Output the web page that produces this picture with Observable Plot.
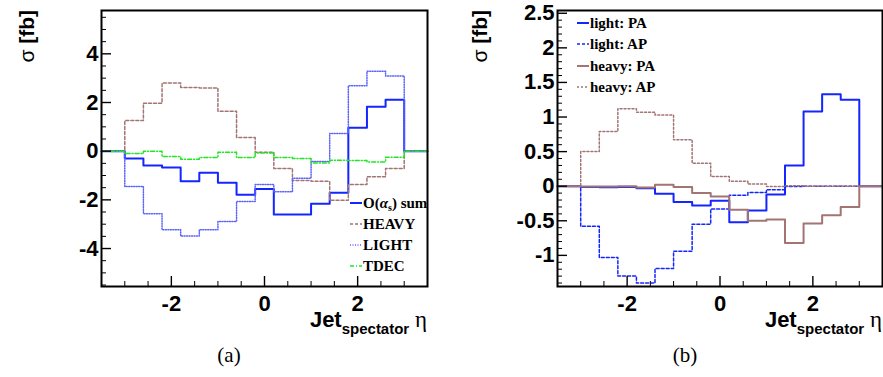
<!DOCTYPE html>
<html><head><meta charset="utf-8">
<script src="https://cdn.jsdelivr.net/npm/d3@7"></script>
<script src="https://cdn.jsdelivr.net/npm/@observablehq/plot@0.6"></script>
<style>
body{margin:0;background:#fff;}
#wrap{position:relative;width:883px;height:377px;overflow:hidden;}
#wrap svg{position:absolute;top:0;overflow:visible;}
</style>
</head><body><div id="wrap"></div>
<script>
// bin edges in eta (15 bins of width 0.4)
const binEdges = [-3.0,-2.6,-2.2,-1.8,-1.4,-1.0,-0.6,-0.2,0.2,0.6,1.0,1.4,1.8,2.2,2.6,3.0];
const xDomain = [-3.5, 3.5];

// panel (a)
const sumA   = [-0.30,-0.59,-0.67,-1.24,-0.89,-1.30,-1.79,-1.55,-2.60,-2.60,-2.16,-1.71,0.96,1.83,2.11];
const heavyA = [1.26,1.97,2.80,2.62,2.60,1.64,0.56,-0.04,-0.71,-1.20,-1.24,-2.02,-1.37,-1.05,-0.71];
const lightA = [-1.45,-2.57,-3.23,-3.49,-3.23,-2.89,-2.07,-1.37,-1.67,-1.11,-0.42,0.73,2.69,3.28,3.09];
const tdecA  = [-0.10,0.00,-0.22,-0.33,-0.26,-0.04,-0.26,-0.07,-0.26,-0.30,-0.49,-0.37,-0.38,-0.44,-0.25];
const yDomainA = [-5.56, 5.78];
const yMajorA = [-4,-2,0,2,4];
const xMajor = [-2,0,2];

// panel (b)
const lightPA = [-0.01,-0.015,-0.01,-0.03,-0.11,-0.23,-0.28,-0.21,-0.52,-0.35,-0.12,0.30,1.08,1.33,1.25];
const lightAP = [-0.58,-1.03,-1.30,-1.40,-1.19,-0.94,-0.55,-0.33,-0.13,-0.09,-0.05,-0.005,0.00,0.00,0.00];
const heavyPA = [-0.005,-0.005,0.00,-0.02,0.02,-0.01,-0.10,-0.15,-0.34,-0.50,-0.48,-0.82,-0.54,-0.42,-0.30];
const heavyAP = [0.50,0.79,1.12,1.07,1.03,0.67,0.33,0.14,0.07,0.03,-0.005,0.005,0.00,0.00,0.00];
const yDomainB = [-1.45, 2.54];
const yMajorB = [-1,-0.5,0,0.5,1,1.5,2,2.5];

const SANS = "'Liberation Sans', Arial, Helvetica, sans-serif";
const SERIF = "'Liberation Serif', 'Times New Roman', serif";
const H = 377, MT = 10, MB = 91;
const fmt = d => String(d);

function steps(vals){
  const pts = [{x: xDomain[0], y: 0}];
  vals.forEach((v,i)=>pts.push({x: binEdges[i], y: v}));
  pts.push({x: binEdges[binEdges.length-1], y: 0});
  pts.push({x: xDomain[1], y: 0});
  return pts;
}
function range(a,b,s){const r=[];for(let v=a;v<=b+1e-9;v+=s)r.push(+v.toFixed(3));return r;}

function panel({width, marginLeft, marginRight, yDomain, yMajor, yMinorStep, series}){
  const fw = width - marginLeft - marginRight, fh = H - MT - MB;
  const yMinor = range(Math.ceil(yDomain[0]/yMinorStep)*yMinorStep, yDomain[1], yMinorStep).filter(v=>!yMajor.some(m=>Math.abs(m-v)<1e-6));
  const xMinor = range(-3.5,3.5,0.5).filter(v=>!xMajor.includes(v) && v>-3.5 && v<3.5);
  const marks = [];
  for (const s of series){
    marks.push(Plot.line(steps(s.vals), {x:"x", y:"y", curve:"step-after", stroke:s.color, strokeWidth:s.w, strokeDasharray:s.dash||null}));
  }
  marks.push(
    Plot.axisY(yMajor, {tickSize:0, tickPadding:3, tickFormat:fmt, fontSize:22, fontWeight:"bold", fontFamily:SANS, label:null}),
    Plot.tickY(yMajor, {y:d=>d, insetRight: fw-10, stroke:"#000", strokeWidth:1.4}),
    Plot.tickY(yMinor, {y:d=>d, insetRight: fw-5, stroke:"#000", strokeWidth:1}),
    Plot.axisX(xMajor, {tickSize:0, tickPadding:9, tickFormat:fmt, fontSize:22, fontWeight:"bold", fontFamily:SANS, label:null}),
    Plot.tickX(xMajor, {x:d=>d, insetTop: fh-10, stroke:"#000", strokeWidth:1.4}),
    Plot.tickX(xMinor, {x:d=>d, insetTop: fh-5, stroke:"#000", strokeWidth:1}),
    Plot.frame({stroke:"#000", strokeWidth:2})
  );
  return Plot.plot({
    width, height:H, marginLeft, marginRight, marginTop:MT, marginBottom:MB,
    x:{domain:xDomain}, y:{domain:yDomain},
    style:{background:"transparent", color:"#000", fontFamily:SANS},
    marks
  });
}

const blue = "#1426ff", blueLight = "#5a62ff", brown = "#a37474", green = "#22e622";

const svgA = panel({width:440, marginLeft:101, marginRight:13, yDomain:yDomainA, yMajor:yMajorA, yMinorStep:0.5,
  series:[
    {vals:sumA, color:blue, w:2},
    {vals:heavyA, color:brown, w:1.5, dash:"3,2"},
    {vals:lightA, color:blueLight, w:1.5, dash:"1,1.5"},
    {vals:tdecA, color:green, w:1.5, dash:"4,2,1,2"}
  ]});
const svgB = panel({width:443, marginLeft:117, marginRight:1, yDomain:yDomainB, yMajor:yMajorB, yMinorStep:0.1,
  series:[
    {vals:lightPA, color:blue, w:2},
    {vals:lightAP, color:blue, w:1.5, dash:"3,2"},
    {vals:heavyPA, color:brown, w:2},
    {vals:heavyAP, color:brown, w:1.5, dash:"2,2"}
  ]});
svgA.style.left = "0px";
svgB.style.left = "440px";
const wrap = document.getElementById("wrap");
wrap.appendChild(svgA);
wrap.appendChild(svgB);

function decorate(svg, {yTitleX, frameRight, tag, tagX, legend}){
  const s = d3.select(svg);
  // y title
  const yt = s.append("text").attr("transform",`translate(${yTitleX},10) rotate(-90)`)
    .attr("text-anchor","end").attr("font-family",SANS).attr("font-size",21).attr("fill","#000");
  yt.append("tspan").text("σ ");
  yt.append("tspan").attr("font-weight","bold").text("[fb]");
  // x title
  const xt = s.append("text").attr("x",frameRight).attr("y",327).attr("text-anchor","end")
    .attr("font-family",SANS).attr("fill","#000");
  xt.append("tspan").attr("font-size",22).attr("font-weight","bold").text("Jet");
  xt.append("tspan").attr("font-size",15).attr("font-weight","bold").attr("dy",7).text("spectator");
  xt.append("tspan").attr("font-size",23).attr("dy",-7).attr("font-family",SERIF).text(" η");
  // panel tag
  s.append("text").attr("x",tagX).attr("y",362).attr("text-anchor","middle")
    .attr("font-family",SERIF).attr("font-size",21).attr("fill","#000").text(tag);
  // legend
  for (const it of legend.items){
    s.append("line").attr("x1",legend.x).attr("x2",legend.x+12).attr("y1",it.y).attr("y2",it.y)
      .attr("stroke",it.color).attr("stroke-width",it.w).attr("stroke-dasharray",it.dash||null);
    const t = s.append("text").attr("x",legend.x+13).attr("y",it.y).attr("dy","0.35em").attr("text-anchor","start")
      .attr("font-family",SERIF).attr("font-weight","bold").attr("font-size",15).attr("fill","#000");
    if (it.sub){
      t.append("tspan").text("O(");
      t.append("tspan").attr("font-style","italic").text("α");
      t.append("tspan").attr("font-size",10).attr("dy",3).text("s");
      t.append("tspan").attr("dy",-3).text(") sum");
    } else t.text(it.label);
  }
}
decorate(svgA, {yTitleX:34, frameRight:427, tag:"(a)", tagX:229,
  legend:{x:350, items:[
    {label:"O(αs) sum", sub:true, y:203, color:blue, w:2},
    {label:"HEAVY", y:224, color:brown, w:1.5, dash:"3,2"},
    {label:"LIGHT", y:245, color:blueLight, w:1.5, dash:"1,1.5"},
    {label:"TDEC", y:266, color:green, w:1.5, dash:"4,2,1,2"}
  ]}});
decorate(svgB, {yTitleX:47, frameRight:442, tag:"(b)", tagX:245,
  legend:{x:137, items:[
    {label:"light: PA", y:23, color:blue, w:2},
    {label:"light: AP", y:44, color:blue, w:1.5, dash:"3,2"},
    {label:"heavy: PA", y:66, color:brown, w:2},
    {label:"heavy: AP", y:87, color:brown, w:1.5, dash:"2,2"}
  ]}});
</script>
</body></html>
